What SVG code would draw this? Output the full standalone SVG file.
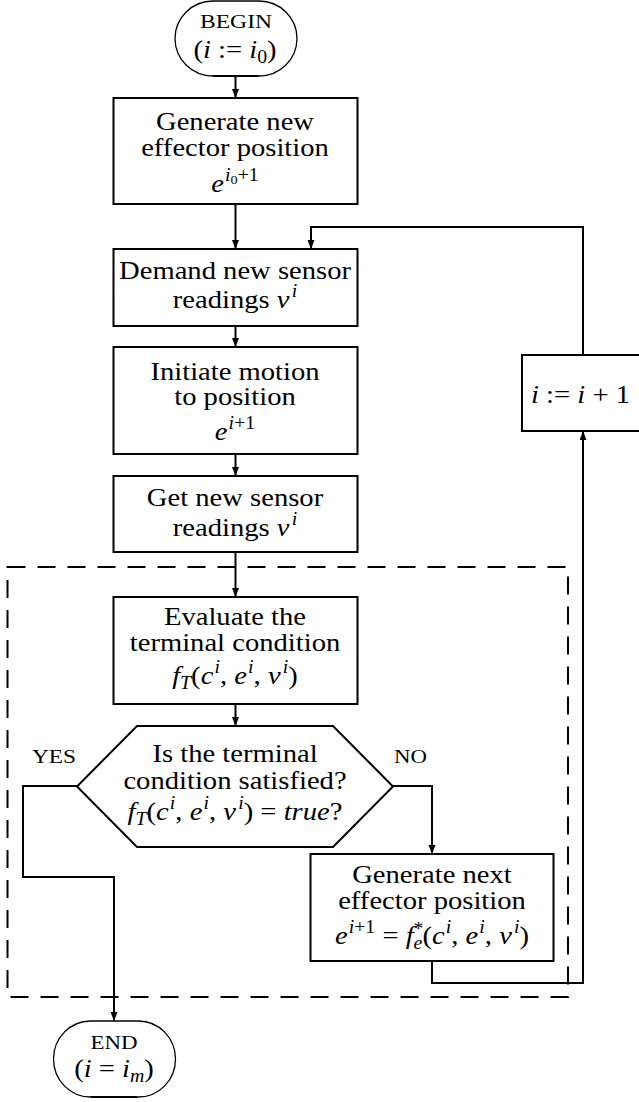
<svg xmlns="http://www.w3.org/2000/svg" width="639" height="1102" viewBox="0 0 639 1102" font-family="'Liberation Serif', 'DejaVu Serif', serif">
<style>
.box{fill:#fff;stroke:#000;stroke-width:2}
.term{fill:#fff;stroke:#000;stroke-width:1.3}
.dash{fill:none;stroke:#000;stroke-width:2;stroke-dasharray:18 12}
.conn{fill:none;stroke:#000;stroke-width:2}
text{font-family:"Liberation Serif","DejaVu Serif",serif;font-size:26px;fill:#000;text-anchor:middle}
.sc{font-size:18px}
.it{font-style:italic}
.s{font-size:18px}
</style>
<defs>
<marker id="arr" markerUnits="userSpaceOnUse" markerWidth="10" markerHeight="8" refX="9" refY="3.5" orient="auto">
<path d="M0,0 L9,3.5 L0,7 z" fill="#000"/>
</marker>
</defs>
<rect x="0" y="0" width="639" height="1102" fill="#fff"/>
<g id="frame">
<rect class="dash" x="7.5" y="567" width="560.5" height="430"/>
</g>
<g id="connectors">
<path class="conn" d="M235.5 76 V98" marker-end="url(#arr)"/>
<path class="conn" d="M235.5 204 V249" marker-end="url(#arr)"/>
<path class="conn" d="M235.5 326 V347" marker-end="url(#arr)"/>
<path class="conn" d="M235.5 454 V476" marker-end="url(#arr)"/>
<path class="conn" d="M235.5 552 V597" marker-end="url(#arr)"/>
<path class="conn" d="M235.5 704 V726" marker-end="url(#arr)"/>
<path class="conn" d="M77 786 H23 V877 H114 V1021" marker-end="url(#arr)"/>
<path class="conn" d="M393 786 H432 V854" marker-end="url(#arr)"/>
<path class="conn" d="M432 961 V983 H583 V431" marker-end="url(#arr)"/>
<path class="conn" d="M583 355 V227 H311 V249" marker-end="url(#arr)"/>
</g>
<g id="begin">
<rect class="term" x="175" y="1" width="122" height="75" rx="38" ry="37.5"/>
<path class="conn" d="M213 76 H258"/>
<text class="sc" x="236" y="28" textLength="72" lengthAdjust="spacingAndGlyphs">BEGIN</text>
<text transform="translate(235,58) scale(1.1,1)">(<tspan class="it">i</tspan> := <tspan class="it">i</tspan><tspan class="s" dy="5">0</tspan><tspan dy="-5">)</tspan></text>
</g>
<g id="generate">
<rect class="box" x="113.5" y="98" width="244" height="106"/>
<text transform="translate(235,130) scale(1.1,1)">Generate new</text>
<text transform="translate(235,156) scale(1.1,1)">effector position</text>
<text transform="translate(235,192) scale(1.1,1)"><tspan class="it">e</tspan><tspan class="s it" dx="1" dy="-11">i</tspan><tspan font-size="13" dy="3">0</tspan><tspan class="s" dy="-3">+1</tspan></text>
</g>
<g id="demand">
<rect class="box" x="113.5" y="249" width="244" height="77"/>
<text transform="translate(235,279) scale(1.1,1)">Demand new sensor</text>
<text transform="translate(235,308) scale(1.1,1)">readings <tspan class="it">v</tspan><tspan class="s it" dx="2" dy="-11">i</tspan></text>
</g>
<g id="initiate">
<rect class="box" x="113.5" y="347" width="244" height="107"/>
<text transform="translate(235,380) scale(1.1,1)">Initiate motion</text>
<text transform="translate(235,405) scale(1.1,1)">to position</text>
<text transform="translate(235,440) scale(1.1,1)"><tspan class="it">e</tspan><tspan class="s" dx="1" dy="-11"><tspan class="it">i</tspan>+1</tspan></text>
</g>
<g id="getnew">
<rect class="box" x="113.5" y="476" width="244" height="76"/>
<text transform="translate(235,506) scale(1.1,1)">Get new sensor</text>
<text transform="translate(235,536) scale(1.1,1)">readings <tspan class="it">v</tspan><tspan class="s it" dx="2" dy="-11">i</tspan></text>
</g>
<g id="evaluate">
<rect class="box" x="113.5" y="597" width="244" height="107"/>
<text transform="translate(235,625) scale(1.1,1)">Evaluate the</text>
<text transform="translate(235,651) scale(1.1,1)">terminal condition</text>
<text transform="translate(235,684) scale(1.1,1)"><tspan class="it">f</tspan><tspan class="s it" dy="5">T</tspan><tspan dy="-5">(</tspan><tspan class="it">c</tspan><tspan class="s it" dx="1" dy="-11">i</tspan><tspan dy="11">, </tspan><tspan class="it">e</tspan><tspan class="s it" dx="1" dy="-11">i</tspan><tspan dy="11">, </tspan><tspan class="it">v</tspan><tspan class="s it" dx="2" dy="-11">i</tspan><tspan dy="11">)</tspan></text>
</g>
<g id="decision">
<polygon class="box" points="137,726 333,726 393,786.5 333,847 137,847 77,786.5"/>
<text transform="translate(235,762) scale(1.1,1)">Is the terminal</text>
<text transform="translate(235,789) scale(1.1,1)">condition satisfied?</text>
<text transform="translate(235,820) scale(1.1,1)"><tspan class="it">f</tspan><tspan class="s it" dy="5">T</tspan><tspan dy="-5">(</tspan><tspan class="it">c</tspan><tspan class="s it" dx="1" dy="-11">i</tspan><tspan dy="11">, </tspan><tspan class="it">e</tspan><tspan class="s it" dx="1" dy="-11">i</tspan><tspan dy="11">, </tspan><tspan class="it">v</tspan><tspan class="s it" dx="2" dy="-11">i</tspan><tspan dy="11">) = </tspan><tspan class="it">true</tspan>?</text>
</g>
<g id="labels">
<text class="sc" x="54" y="763" textLength="44" lengthAdjust="spacingAndGlyphs">YES</text>
<text class="sc" x="410.5" y="763" textLength="33" lengthAdjust="spacingAndGlyphs">NO</text>
</g>
<g id="gennext">
<rect class="box" x="310.5" y="854" width="243" height="107"/>
<text transform="translate(432,883) scale(1.1,1)">Generate next</text>
<text transform="translate(432,909) scale(1.1,1)">effector position</text>
<text transform="translate(432,944) scale(1.1,1)"><tspan class="it">e</tspan><tspan class="s" dx="1" dy="-11"><tspan class="it">i</tspan>+1</tspan><tspan dy="11"> = </tspan><tspan class="it">f</tspan><tspan class="s" dy="-9">*</tspan><tspan class="s it" dx="-9" dy="14">e</tspan><tspan dy="-5">(</tspan><tspan class="it">c</tspan><tspan class="s it" dx="1" dy="-11">i</tspan><tspan dy="11">, </tspan><tspan class="it">e</tspan><tspan class="s it" dx="1" dy="-11">i</tspan><tspan dy="11">, </tspan><tspan class="it">v</tspan><tspan class="s it" dx="2" dy="-11">i</tspan><tspan dy="11">)</tspan></text>
</g>
<g id="increment">
<rect class="box" x="522" y="355" width="125" height="76"/>
<text transform="translate(580.5,403) scale(1.1,1)"><tspan class="it">i</tspan> := <tspan class="it">i</tspan> + 1</text>
</g>
<g id="end">
<rect class="term" x="53.5" y="1021" width="122" height="76" rx="37" ry="38"/>
<path class="conn" d="M91 1097 H137"/>
<text class="sc" x="114" y="1049" textLength="47" lengthAdjust="spacingAndGlyphs">END</text>
<text transform="translate(114,1077) scale(1.1,1)">(<tspan class="it">i</tspan> = <tspan class="it">i</tspan><tspan class="s it" dy="5">m</tspan><tspan dy="-5">)</tspan></text>
</g>
</svg>
